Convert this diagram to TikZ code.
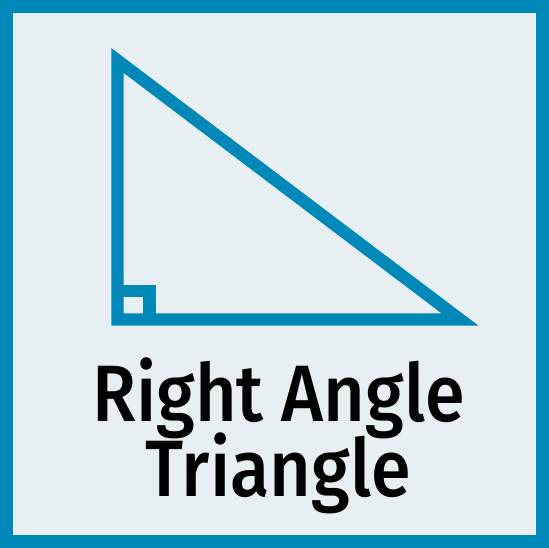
\documentclass[tikz,border=0pt]{standalone}
\usepackage{fontspec}
\setmainfont{Fira Sans}
\newfontfamily\captionfont{Fira Sans Medium}[FakeStretch=0.9]
\usetikzlibrary{positioning}
\definecolor{iconblue}{HTML}{0088B9}
\definecolor{iconbg}{HTML}{E7EFF2}

\begin{document}
\begin{tikzpicture}[
    x=1pt, y=-1pt,
    edge/.style={draw=iconblue, line width=12.4pt},
    caption/.style={font=\captionfont\fontsize{80}{80}\selectfont, text=black, inner sep=0pt, anchor=base}
]
\useasboundingbox (0,0) rectangle (549,548);

% Background and frame
\fill[iconbg] (0,0) rectangle (549,548);
\draw[edge, line width=13pt] (6.5,6.5) rectangle (542.5,541.5);

% Corners of the triangle
\coordinate (apex) at (117.5,60.5);
\coordinate (corner) at (117.5,319.5);
\coordinate (tip) at (460,319.5);
\draw[edge] (apex) -- (corner) -- (tip) -- cycle;

% Right angle mark
\draw[edge] (117.5,290.8) -- (149.5,290.8) -- (149.5,319.5);

% Caption
\node[caption] (line1) at (278.4,421.7) {Right Angle};
\node[caption] (line2) at (278.3,496.7) {Triangle};

\end{tikzpicture}
\end{document}
